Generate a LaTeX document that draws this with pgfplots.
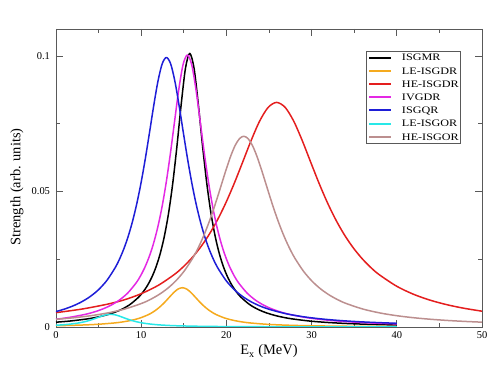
\documentclass[border=0pt]{standalone}
\usepackage{fontspec}
\setmainfont{Liberation Serif}
\newfontfamily\legfont[FakeStretch=1.22]{Liberation Serif}
\usepackage{pgfplots}
\pgfplotsset{compat=1.18}
\definecolor{cOrange}{RGB}{245,170,30}
\definecolor{cRed}{RGB}{228,30,30}
\definecolor{cMag}{RGB}{228,40,228}
\definecolor{cBlue}{RGB}{30,30,215}
\definecolor{cCyan}{RGB}{40,232,232}
\definecolor{cBrown}{RGB}{188,143,143}
\begin{document}
\begin{tikzpicture}
\begin{axis}[
  name=ax,
  scale only axis,
  width=426bp, height=298bp,
  xmin=0, xmax=50, ymin=0, ymax=0.11,
  xtick={0,10,20,30,40,50},
  ytick={0,0.05,0.1},
  yticklabels={0,0.05,0.1},
  minor x tick num=1,
  minor y tick num=1,
  major tick length=7bp,
  minor tick length=4bp,
  tick style={black!65, line width=0.7bp},
  axis line style={black!65, line width=0.7bp},
  /pgf/number format/assume math mode=true,
  ticklabel style={font=\fontsize{10.5}{12}\selectfont},
  xticklabel style={yshift=-1.5bp},
  yticklabel style={xshift=-2.5bp},
  xlabel={E\textsubscript{x} (MeV)},
  ylabel={Strength (arb. units)},
  label style={font=\fontsize{14.5}{16}\selectfont},
  xlabel style={at={(axis description cs:0.5,-0.082)}, anchor=center},
  ylabel style={at={(axis description cs:-0.0915,0.47)}, anchor=center},
  legend cell align=left,
  legend image code/.code={\draw[#1, line width=1.9bp] (0bp,0bp) -- (22bp,0bp);},
  legend style={at={(rel axis cs:1,1)}, anchor=north east, xshift=-21bp, yshift=-22bp,
    draw=black!65, line width=0.6bp, inner xsep=2bp, inner ysep=3bp,
    font=\legfont\fontsize{10}{11}\selectfont,
    nodes={inner sep=0pt, text height=6.6bp, text depth=0bp},
    column sep=10bp, row sep=6.6bp},
  every axis plot/.append style={line width=1.5bp, line join=round, smooth, tension=0.5},
]
\addplot[black] coordinates {
(0,0.001775)(1.7,0.002222)(3.7,0.003001)(4.7,0.003552)(5.7,0.004266)(6.7,0.005215)(7.7,0.006511)(8.7,0.008339)(9.7,0.011022)(10.2,0.012851)(10.7,0.015145)(11.2,0.018062)(11.7,0.021823)(12.2,0.026735)(12.7,0.033215)(13.2,0.041784)(13.7,0.052962)(14.2,0.066878)(14.7,0.082331)(15.2,0.095582)(15.7,0.101)(16.2,0.095582)(16.7,0.082331)(17.2,0.066878)(17.7,0.052962)(18.2,0.041784)(18.7,0.033215)(19.2,0.026735)(19.7,0.021823)(20.2,0.018062)(20.7,0.015145)(21.2,0.012851)(21.7,0.011022)(22.7,0.008339)(23.7,0.006511)(24.7,0.005215)(25.7,0.004266)(26.7,0.003552)(27.7,0.003001)(29.7,0.002222)(31.7,0.001710)(33.7,0.001356)(35.7,0.001101)(37.7,0.000912)(40,0.000749)};
\addlegendentry{ISGMR}
\addplot[cOrange] coordinates {
(0,0.000466)(2.83,0.000700)(4.83,0.000986)(6.83,0.001485)(7.83,0.001880)(8.83,0.002445)(9.83,0.003277)(10.83,0.004543)(11.33,0.005414)(11.83,0.006494)(12.33,0.007812)(12.83,0.009367)(13.33,0.011084)(13.83,0.012753)(14.33,0.014020)(14.83,0.0145)(15.33,0.014020)(15.83,0.012753)(16.33,0.011084)(16.83,0.009367)(17.33,0.007812)(17.83,0.006494)(18.33,0.005414)(18.83,0.004543)(19.83,0.003277)(20.83,0.002445)(21.83,0.001880)(22.83,0.001485)(24.83,0.000986)(26.83,0.000700)(28.83,0.000521)(31.83,0.000357)(34.83,0.000260)(40,0.000165)};
\addlegendentry{LE-ISGDR}
\addplot[cRed] coordinates {
(0,0.0053)(3,0.0066)(6,0.0084)(8,0.010010)(10,0.012289)(12,0.015377)(13.9,0.019402)(14.9,0.022107)(15.9,0.025331)(16.9,0.029181)(17.9,0.033774)(18.9,0.039222)(19.9,0.045595)(20.9,0.052864)(21.9,0.060793)(22.9,0.068823)(23.9,0.075992)(24.9,0.081058)(25.9,0.0829)(26.9,0.081058)(27.9,0.075992)(28.9,0.068823)(29.9,0.060793)(30.9,0.052864)(31.9,0.045595)(32.9,0.039222)(33.9,0.033774)(34.9,0.029181)(35.9,0.025331)(36.9,0.022107)(37.9,0.019402)(40,0.015023)(42,0.012030)(44,0.009816)(46,0.008142)(48,0.006851)(50,0.005838)};
\addlegendentry{HE-ISGDR}
\addplot[cMag] coordinates {
(0,0.002871)(1.42,0.003462)(3.42,0.004654)(4.42,0.005491)(5.42,0.006568)(6.42,0.007986)(7.42,0.009899)(8.42,0.012550)(9.42,0.016344)(9.92,0.018867)(10.42,0.021963)(10.92,0.025791)(11.42,0.030557)(11.92,0.036509)(12.42,0.043925)(12.92,0.053042)(13.42,0.063891)(13.92,0.075978)(14.42,0.08785)(14.92,0.096938)(15.42,0.1004)(15.92,0.096938)(16.42,0.08785)(16.92,0.075978)(17.42,0.063891)(17.92,0.053042)(18.42,0.043925)(18.92,0.036509)(19.42,0.030557)(19.92,0.025791)(20.42,0.021963)(20.92,0.018867)(21.42,0.016344)(22.42,0.012550)(23.42,0.009899)(24.42,0.007986)(25.42,0.006568)(26.42,0.005491)(27.42,0.004654)(29.42,0.003462)(31.42,0.002672)(33.42,0.002123)(35.42,0.001727)(37.42,0.001431)(40,0.001150)};
\addlegendentry{IVGDR}
\addplot[cBlue] coordinates {
(0,0.005697)(0.96,0.006582)(1.96,0.007735)(2.96,0.009210)(3.96,0.011128)(4.96,0.013678)(5.96,0.017144)(6.96,0.021968)(7.46,0.025090)(7.96,0.028832)(8.46,0.033330)(8.96,0.038737)(9.46,0.045207)(9.96,0.052859)(10.46,0.061696)(10.96,0.071472)(11.46,0.081518)(11.96,0.090616)(12.46,0.097120)(12.96,0.0995)(13.46,0.097120)(13.96,0.090616)(14.46,0.081518)(14.96,0.071472)(15.46,0.061696)(15.96,0.052859)(16.46,0.045207)(16.96,0.038737)(17.46,0.033330)(17.96,0.028832)(18.46,0.025090)(18.96,0.021968)(19.96,0.017144)(20.96,0.013678)(21.96,0.011128)(22.96,0.009210)(23.96,0.007735)(24.96,0.006582)(26.96,0.004922)(28.96,0.003813)(30.96,0.003037)(32.96,0.002474)(34.96,0.002054)(36.96,0.001731)(40,0.001369)};
\addlegendentry{ISGQR}
\addplot[cCyan] coordinates {
(0,0.000644)(0.4,0.000719)(1.4,0.000970)(2.4,0.001358)(2.9,0.001629)(3.4,0.001971)(3.9,0.002396)(4.4,0.002910)(4.9,0.003491)(5.4,0.004073)(5.9,0.004526)(6.4,0.0047)(6.9,0.004526)(7.4,0.004073)(7.9,0.003491)(8.4,0.002910)(8.9,0.002396)(9.4,0.001971)(9.9,0.001629)(10.4,0.001358)(11.4,0.000970)(12.4,0.000719)(13.4,0.000550)(14.4,0.000433)(16.4,0.000287)(18.4,0.000203)(20,0.000160)(24,0.0000966)(28,0.0000646)(32,0.0000462)(36,0.0000346)(40,0.0000269)};
\addlegendentry{LE-ISGOR}
\addplot[cBrown] coordinates {
(0,0.002824)(2.04,0.003400)(4.04,0.004151)(6.04,0.005172)(8.04,0.006607)(10.04,0.008698)(11.04,0.010114)(12.04,0.011880)(13.04,0.014108)(14.04,0.016953)(15.04,0.020622)(16.04,0.025384)(16.54,0.028272)(17.04,0.031548)(17.54,0.035244)(18.04,0.039370)(18.54,0.043905)(19.04,0.048776)(19.54,0.053828)(20.04,0.058812)(20.54,0.063376)(21.04,0.067095)(21.54,0.069544)(22.04,0.0704)(22.54,0.069544)(23.04,0.067095)(23.54,0.063376)(24.04,0.058812)(24.54,0.053828)(25.04,0.048776)(25.54,0.043905)(26.04,0.039370)(26.54,0.035244)(27.04,0.031548)(27.54,0.028272)(28.04,0.025384)(29.04,0.020622)(30.04,0.016953)(31.04,0.014108)(32.04,0.011880)(33.04,0.010114)(34.04,0.008698)(36.04,0.006607)(38.04,0.005172)(40.04,0.004151)(42.04,0.003400)(44.04,0.002834)(46.04,0.002397)(48.04,0.002052)(50,0.001782)};
\addlegendentry{HE-ISGOR}
\end{axis}
\pgfresetboundingbox
\path[use as bounding box] ([xshift=-56bp,yshift=-61bp]ax.south west) rectangle ([xshift=20bp,yshift=29bp]ax.north east);
\end{tikzpicture}
\end{document}
